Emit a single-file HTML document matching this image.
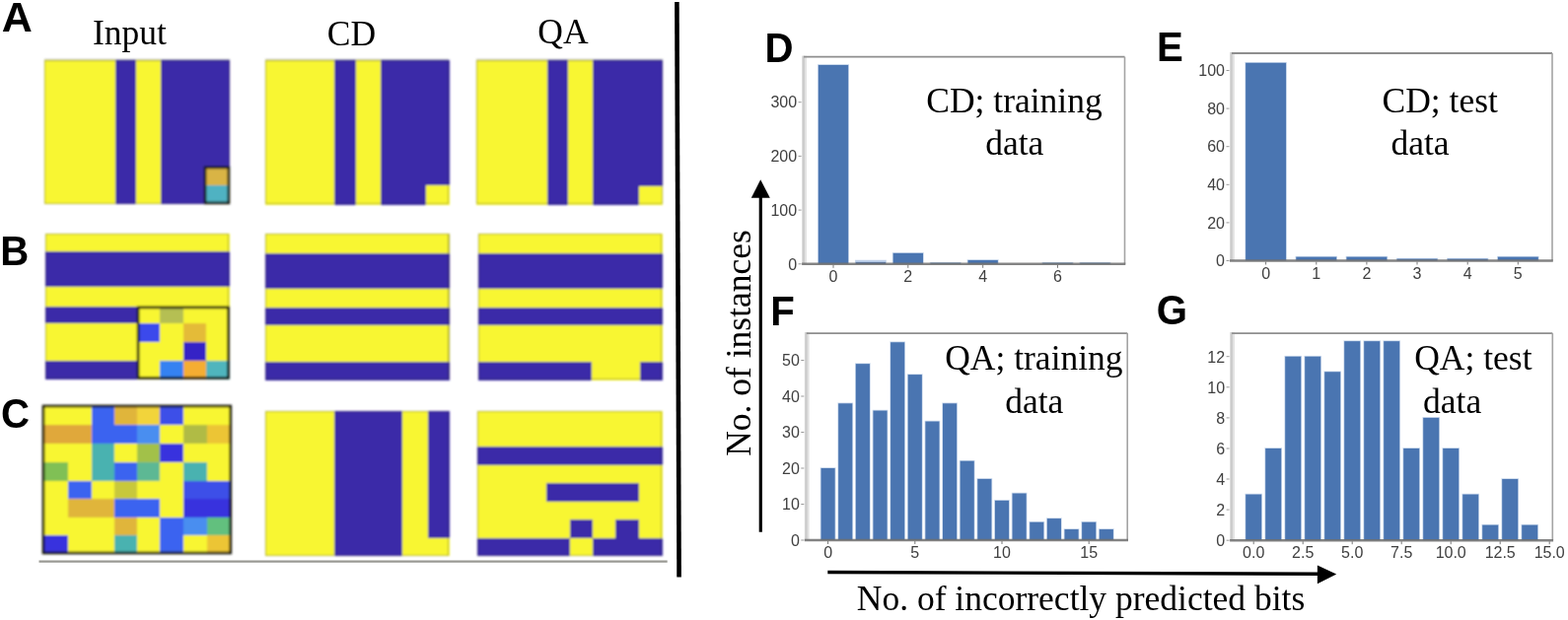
<!DOCTYPE html>
<html><head><meta charset="utf-8"><title>Figure</title>
<style>html,body{margin:0;padding:0;background:#fff;} svg{display:block;}</style>
</head><body>
<svg width="1590" height="629" viewBox="0 0 1590 629">
<rect width="1590" height="629" fill="#fff"/>
<defs><filter id="bl" x="-5%" y="-5%" width="110%" height="110%"><feGaussianBlur stdDeviation="0.8"/></filter></defs>
<g font-family="'Liberation Serif','Times New Roman',serif" font-size="35.5" fill="#000">
<text x="131.4" y="45.3" text-anchor="middle">Input</text>
<text x="356.4" y="46" text-anchor="middle">CD</text>
<text x="571" y="43.8" text-anchor="middle">QA</text>
</g>
<g font-family="'Liberation Sans',Arial,sans-serif" font-weight="bold" font-size="43" fill="#000">
<text transform="translate(17.2,32.4) scale(1.0,1.0)" x="0" y="0" text-anchor="middle">A</text>
<text transform="translate(14.65,269.2) scale(0.935,1.0)" x="0" y="0" text-anchor="middle">B</text>
<text transform="translate(15.4,433.8) scale(0.935,1.0)" x="0" y="0" text-anchor="middle">C</text>
<text transform="translate(789.9,62.6) scale(0.935,1.0)" x="0" y="0" text-anchor="middle">D</text>
<text transform="translate(1186.5,62.3) scale(0.935,1.0)" x="0" y="0" text-anchor="middle">E</text>
<text transform="translate(793.6,330.2) scale(0.935,1.0)" x="0" y="0" text-anchor="middle">F</text>
<text transform="translate(1188.4,329.4) scale(0.935,1.0)" x="0" y="0" text-anchor="middle">G</text>
</g>
<g filter="url(#bl)">
<g shape-rendering="crispEdges">
<rect x="45.00" y="60.50" width="72.30" height="18.38" fill="#f8f631"/>
<rect x="117.00" y="60.50" width="21.50" height="18.38" fill="#3a2aa8"/>
<rect x="138.20" y="60.50" width="25.10" height="18.38" fill="#f8f631"/>
<rect x="163.00" y="60.50" width="70.10" height="18.38" fill="#3a2aa8"/>
<rect x="45.00" y="78.58" width="72.30" height="18.38" fill="#f8f631"/>
<rect x="117.00" y="78.58" width="21.50" height="18.38" fill="#3a2aa8"/>
<rect x="138.20" y="78.58" width="25.10" height="18.38" fill="#f8f631"/>
<rect x="163.00" y="78.58" width="70.10" height="18.38" fill="#3a2aa8"/>
<rect x="45.00" y="96.67" width="72.30" height="18.38" fill="#f8f631"/>
<rect x="117.00" y="96.67" width="21.50" height="18.38" fill="#3a2aa8"/>
<rect x="138.20" y="96.67" width="25.10" height="18.38" fill="#f8f631"/>
<rect x="163.00" y="96.67" width="70.10" height="18.38" fill="#3a2aa8"/>
<rect x="45.00" y="114.75" width="72.30" height="18.38" fill="#f8f631"/>
<rect x="117.00" y="114.75" width="21.50" height="18.38" fill="#3a2aa8"/>
<rect x="138.20" y="114.75" width="25.10" height="18.38" fill="#f8f631"/>
<rect x="163.00" y="114.75" width="70.10" height="18.38" fill="#3a2aa8"/>
<rect x="45.00" y="132.83" width="72.30" height="18.38" fill="#f8f631"/>
<rect x="117.00" y="132.83" width="21.50" height="18.38" fill="#3a2aa8"/>
<rect x="138.20" y="132.83" width="25.10" height="18.38" fill="#f8f631"/>
<rect x="163.00" y="132.83" width="70.10" height="18.38" fill="#3a2aa8"/>
<rect x="45.00" y="150.92" width="72.30" height="18.38" fill="#f8f631"/>
<rect x="117.00" y="150.92" width="21.50" height="18.38" fill="#3a2aa8"/>
<rect x="138.20" y="150.92" width="25.10" height="18.38" fill="#f8f631"/>
<rect x="163.00" y="150.92" width="70.10" height="18.38" fill="#3a2aa8"/>
<rect x="45.00" y="169.00" width="72.30" height="19.20" fill="#f8f631"/>
<rect x="117.00" y="169.00" width="21.50" height="19.20" fill="#3a2aa8"/>
<rect x="138.20" y="169.00" width="25.10" height="19.20" fill="#f8f631"/>
<rect x="163.00" y="169.00" width="44.40" height="19.20" fill="#3a2aa8"/>
<rect x="207.10" y="169.00" width="26.00" height="19.20" fill="#d9b445"/>
<rect x="45.00" y="187.90" width="72.30" height="19.20" fill="#f8f631"/>
<rect x="117.00" y="187.90" width="21.50" height="19.20" fill="#3a2aa8"/>
<rect x="138.20" y="187.90" width="25.10" height="19.20" fill="#f8f631"/>
<rect x="163.00" y="187.90" width="44.40" height="19.20" fill="#3a2aa8"/>
<rect x="207.10" y="187.90" width="26.00" height="19.20" fill="#4fb2c2"/>
<rect x="45.60" y="61.10" width="186.60" height="145.10" fill="none" stroke="#303030" stroke-opacity="0.35" stroke-width="1.2"/>
</g>
<rect x="208.00" y="169.90" width="23.90" height="36.00" fill="none" stroke="#15150c" stroke-width="2.6"/>
<g shape-rendering="crispEdges">
<rect x="269.20" y="60.50" width="69.80" height="18.46" fill="#f8f631"/>
<rect x="338.70" y="60.50" width="22.60" height="18.46" fill="#3a2aa8"/>
<rect x="361.00" y="60.50" width="25.20" height="18.46" fill="#f8f631"/>
<rect x="385.90" y="60.50" width="69.70" height="18.46" fill="#3a2aa8"/>
<rect x="269.20" y="78.66" width="69.80" height="18.46" fill="#f8f631"/>
<rect x="338.70" y="78.66" width="22.60" height="18.46" fill="#3a2aa8"/>
<rect x="361.00" y="78.66" width="25.20" height="18.46" fill="#f8f631"/>
<rect x="385.90" y="78.66" width="69.70" height="18.46" fill="#3a2aa8"/>
<rect x="269.20" y="96.81" width="69.80" height="18.46" fill="#f8f631"/>
<rect x="338.70" y="96.81" width="22.60" height="18.46" fill="#3a2aa8"/>
<rect x="361.00" y="96.81" width="25.20" height="18.46" fill="#f8f631"/>
<rect x="385.90" y="96.81" width="69.70" height="18.46" fill="#3a2aa8"/>
<rect x="269.20" y="114.97" width="69.80" height="18.46" fill="#f8f631"/>
<rect x="338.70" y="114.97" width="22.60" height="18.46" fill="#3a2aa8"/>
<rect x="361.00" y="114.97" width="25.20" height="18.46" fill="#f8f631"/>
<rect x="385.90" y="114.97" width="69.70" height="18.46" fill="#3a2aa8"/>
<rect x="269.20" y="133.13" width="69.80" height="18.46" fill="#f8f631"/>
<rect x="338.70" y="133.13" width="22.60" height="18.46" fill="#3a2aa8"/>
<rect x="361.00" y="133.13" width="25.20" height="18.46" fill="#f8f631"/>
<rect x="385.90" y="133.13" width="69.70" height="18.46" fill="#3a2aa8"/>
<rect x="269.20" y="151.29" width="69.80" height="18.46" fill="#f8f631"/>
<rect x="338.70" y="151.29" width="22.60" height="18.46" fill="#3a2aa8"/>
<rect x="361.00" y="151.29" width="25.20" height="18.46" fill="#f8f631"/>
<rect x="385.90" y="151.29" width="69.70" height="18.46" fill="#3a2aa8"/>
<rect x="269.20" y="169.44" width="69.80" height="18.46" fill="#f8f631"/>
<rect x="338.70" y="169.44" width="22.60" height="18.46" fill="#3a2aa8"/>
<rect x="361.00" y="169.44" width="25.20" height="18.46" fill="#f8f631"/>
<rect x="385.90" y="169.44" width="69.70" height="18.46" fill="#3a2aa8"/>
<rect x="269.20" y="187.60" width="69.80" height="19.90" fill="#f8f631"/>
<rect x="338.70" y="187.60" width="22.60" height="19.90" fill="#3a2aa8"/>
<rect x="361.00" y="187.60" width="25.20" height="19.90" fill="#f8f631"/>
<rect x="385.90" y="187.60" width="46.10" height="19.90" fill="#3a2aa8"/>
<rect x="431.70" y="187.60" width="23.90" height="19.90" fill="#f8f631"/>
<rect x="269.80" y="61.10" width="184.90" height="145.50" fill="none" stroke="#303030" stroke-opacity="0.35" stroke-width="1.2"/>
</g>
<g shape-rendering="crispEdges">
<rect x="483.10" y="60.50" width="72.40" height="18.66" fill="#f8f631"/>
<rect x="555.20" y="60.50" width="21.30" height="18.66" fill="#3a2aa8"/>
<rect x="576.20" y="60.50" width="25.20" height="18.66" fill="#f8f631"/>
<rect x="601.10" y="60.50" width="71.10" height="18.66" fill="#3a2aa8"/>
<rect x="483.10" y="78.86" width="72.40" height="18.66" fill="#f8f631"/>
<rect x="555.20" y="78.86" width="21.30" height="18.66" fill="#3a2aa8"/>
<rect x="576.20" y="78.86" width="25.20" height="18.66" fill="#f8f631"/>
<rect x="601.10" y="78.86" width="71.10" height="18.66" fill="#3a2aa8"/>
<rect x="483.10" y="97.21" width="72.40" height="18.66" fill="#f8f631"/>
<rect x="555.20" y="97.21" width="21.30" height="18.66" fill="#3a2aa8"/>
<rect x="576.20" y="97.21" width="25.20" height="18.66" fill="#f8f631"/>
<rect x="601.10" y="97.21" width="71.10" height="18.66" fill="#3a2aa8"/>
<rect x="483.10" y="115.57" width="72.40" height="18.66" fill="#f8f631"/>
<rect x="555.20" y="115.57" width="21.30" height="18.66" fill="#3a2aa8"/>
<rect x="576.20" y="115.57" width="25.20" height="18.66" fill="#f8f631"/>
<rect x="601.10" y="115.57" width="71.10" height="18.66" fill="#3a2aa8"/>
<rect x="483.10" y="133.93" width="72.40" height="18.66" fill="#f8f631"/>
<rect x="555.20" y="133.93" width="21.30" height="18.66" fill="#3a2aa8"/>
<rect x="576.20" y="133.93" width="25.20" height="18.66" fill="#f8f631"/>
<rect x="601.10" y="133.93" width="71.10" height="18.66" fill="#3a2aa8"/>
<rect x="483.10" y="152.29" width="72.40" height="18.66" fill="#f8f631"/>
<rect x="555.20" y="152.29" width="21.30" height="18.66" fill="#3a2aa8"/>
<rect x="576.20" y="152.29" width="25.20" height="18.66" fill="#f8f631"/>
<rect x="601.10" y="152.29" width="71.10" height="18.66" fill="#3a2aa8"/>
<rect x="483.10" y="170.64" width="72.40" height="18.66" fill="#f8f631"/>
<rect x="555.20" y="170.64" width="21.30" height="18.66" fill="#3a2aa8"/>
<rect x="576.20" y="170.64" width="25.20" height="18.66" fill="#f8f631"/>
<rect x="601.10" y="170.64" width="71.10" height="18.66" fill="#3a2aa8"/>
<rect x="483.10" y="189.00" width="72.40" height="18.50" fill="#f8f631"/>
<rect x="555.20" y="189.00" width="21.30" height="18.50" fill="#3a2aa8"/>
<rect x="576.20" y="189.00" width="25.20" height="18.50" fill="#f8f631"/>
<rect x="601.10" y="189.00" width="47.50" height="18.50" fill="#3a2aa8"/>
<rect x="648.30" y="189.00" width="23.90" height="18.50" fill="#f8f631"/>
<rect x="483.70" y="61.10" width="187.60" height="145.50" fill="none" stroke="#303030" stroke-opacity="0.35" stroke-width="1.2"/>
</g>
<g shape-rendering="crispEdges">
<rect x="45.90" y="237.20" width="186.80" height="17.80" fill="#f8f631"/>
<rect x="45.90" y="254.70" width="186.80" height="18.60" fill="#3a2aa8"/>
<rect x="45.90" y="273.00" width="186.80" height="18.50" fill="#3a2aa8"/>
<rect x="45.90" y="291.20" width="186.80" height="20.10" fill="#f8f631"/>
<rect x="45.90" y="311.00" width="93.55" height="17.50" fill="#3a2aa8"/>
<rect x="139.15" y="311.00" width="23.61" height="17.50" fill="#f8f631"/>
<rect x="162.46" y="311.00" width="23.61" height="17.50" fill="#b5bf52"/>
<rect x="185.78" y="311.00" width="46.92" height="17.50" fill="#f8f631"/>
<rect x="45.90" y="328.20" width="93.55" height="18.90" fill="#f8f631"/>
<rect x="139.15" y="328.20" width="23.61" height="18.90" fill="#3a48ec"/>
<rect x="162.46" y="328.20" width="23.61" height="18.90" fill="#f8f631"/>
<rect x="185.78" y="328.20" width="23.61" height="18.90" fill="#e4bb38"/>
<rect x="209.09" y="328.20" width="23.61" height="18.90" fill="#f8f631"/>
<rect x="45.90" y="346.80" width="140.18" height="19.00" fill="#f8f631"/>
<rect x="185.78" y="346.80" width="23.61" height="19.00" fill="#3424c6"/>
<rect x="209.09" y="346.80" width="23.61" height="19.00" fill="#f8f631"/>
<rect x="45.90" y="365.50" width="93.55" height="19.10" fill="#3a2aa8"/>
<rect x="139.15" y="365.50" width="23.61" height="19.10" fill="#f8f631"/>
<rect x="162.46" y="365.50" width="23.61" height="19.10" fill="#3582f2"/>
<rect x="185.78" y="365.50" width="23.61" height="19.10" fill="#f5ad33"/>
<rect x="209.09" y="365.50" width="23.61" height="19.10" fill="#4fb5bd"/>
<rect x="46.50" y="237.80" width="185.30" height="145.90" fill="none" stroke="#303030" stroke-opacity="0.35" stroke-width="1.2"/>
</g>
<rect x="140.05" y="311.90" width="91.45" height="71.50" fill="none" stroke="#15150c" stroke-width="2.6"/>
<g shape-rendering="crispEdges">
<rect x="268.60" y="237.20" width="187.30" height="19.60" fill="#f8f631"/>
<rect x="268.60" y="256.50" width="187.30" height="18.40" fill="#3a2aa8"/>
<rect x="268.60" y="274.60" width="187.30" height="18.30" fill="#3a2aa8"/>
<rect x="268.60" y="292.60" width="187.30" height="19.70" fill="#f8f631"/>
<rect x="268.60" y="312.00" width="187.30" height="18.30" fill="#3a2aa8"/>
<rect x="268.60" y="330.00" width="187.30" height="19.10" fill="#f8f631"/>
<rect x="268.60" y="348.80" width="187.30" height="18.90" fill="#f8f631"/>
<rect x="268.60" y="367.40" width="187.30" height="18.10" fill="#3a2aa8"/>
<rect x="269.20" y="237.80" width="185.80" height="146.80" fill="none" stroke="#303030" stroke-opacity="0.35" stroke-width="1.2"/>
</g>
<g shape-rendering="crispEdges">
<rect x="484.90" y="237.20" width="186.80" height="19.60" fill="#f8f631"/>
<rect x="484.90" y="256.50" width="186.80" height="18.40" fill="#3a2aa8"/>
<rect x="484.90" y="274.60" width="186.80" height="18.30" fill="#3a2aa8"/>
<rect x="484.90" y="292.60" width="186.80" height="19.70" fill="#f8f631"/>
<rect x="484.90" y="312.00" width="186.80" height="18.30" fill="#3a2aa8"/>
<rect x="484.90" y="330.00" width="186.80" height="19.10" fill="#f8f631"/>
<rect x="484.90" y="348.80" width="186.80" height="18.90" fill="#f8f631"/>
<rect x="484.90" y="367.40" width="115.20" height="18.10" fill="#3a2aa8"/>
<rect x="599.80" y="367.40" width="49.00" height="18.10" fill="#f8f631"/>
<rect x="648.50" y="367.40" width="23.20" height="18.10" fill="#3a2aa8"/>
<rect x="485.50" y="237.80" width="185.30" height="146.80" fill="none" stroke="#303030" stroke-opacity="0.35" stroke-width="1.2"/>
</g>
<g shape-rendering="crispEdges">
<rect x="43.80" y="411.80" width="49.00" height="19.80" fill="#f8f631"/>
<rect x="92.50" y="411.80" width="23.80" height="19.80" fill="#3a64f0"/>
<rect x="116.00" y="411.80" width="22.90" height="19.80" fill="#e0b53a"/>
<rect x="138.60" y="411.80" width="23.50" height="19.80" fill="#f2d43a"/>
<rect x="161.80" y="411.80" width="24.50" height="19.80" fill="#3c50e8"/>
<rect x="186.00" y="411.80" width="48.30" height="19.80" fill="#f8f631"/>
<rect x="43.80" y="431.30" width="49.00" height="19.20" fill="#e0a83a"/>
<rect x="92.50" y="431.30" width="46.40" height="19.20" fill="#3a64f0"/>
<rect x="138.60" y="431.30" width="23.50" height="19.20" fill="#4a8ef0"/>
<rect x="161.80" y="431.30" width="24.50" height="19.20" fill="#f8f631"/>
<rect x="186.00" y="431.30" width="23.80" height="19.20" fill="#b0bb45"/>
<rect x="209.50" y="431.30" width="24.80" height="19.20" fill="#ecc534"/>
<rect x="43.80" y="450.20" width="49.00" height="19.10" fill="#f8f631"/>
<rect x="92.50" y="450.20" width="23.80" height="19.10" fill="#48b2b0"/>
<rect x="116.00" y="450.20" width="22.90" height="19.10" fill="#f8f631"/>
<rect x="138.60" y="450.20" width="23.50" height="19.10" fill="#a2c14a"/>
<rect x="161.80" y="450.20" width="24.50" height="19.10" fill="#3832de"/>
<rect x="186.00" y="450.20" width="48.30" height="19.10" fill="#f8f631"/>
<rect x="43.80" y="469.00" width="25.50" height="19.10" fill="#80c055"/>
<rect x="69.00" y="469.00" width="23.80" height="19.10" fill="#f8f631"/>
<rect x="92.50" y="469.00" width="23.80" height="19.10" fill="#48b2b0"/>
<rect x="116.00" y="469.00" width="22.90" height="19.10" fill="#3a64f0"/>
<rect x="138.60" y="469.00" width="23.50" height="19.10" fill="#5db894"/>
<rect x="161.80" y="469.00" width="24.50" height="19.10" fill="#f8f631"/>
<rect x="186.00" y="469.00" width="23.80" height="19.10" fill="#48b2b0"/>
<rect x="209.50" y="469.00" width="24.80" height="19.10" fill="#f8f631"/>
<rect x="43.80" y="487.80" width="25.50" height="18.80" fill="#f8f631"/>
<rect x="69.00" y="487.80" width="23.80" height="18.80" fill="#3a64f0"/>
<rect x="92.50" y="487.80" width="23.80" height="18.80" fill="#f8f631"/>
<rect x="116.00" y="487.80" width="22.90" height="18.80" fill="#c8c83a"/>
<rect x="138.60" y="487.80" width="47.70" height="18.80" fill="#f8f631"/>
<rect x="186.00" y="487.80" width="48.30" height="18.80" fill="#3c50e8"/>
<rect x="43.80" y="506.30" width="25.50" height="18.70" fill="#f8f631"/>
<rect x="69.00" y="506.30" width="47.30" height="18.70" fill="#e0b53a"/>
<rect x="116.00" y="506.30" width="46.10" height="18.70" fill="#3a64f0"/>
<rect x="161.80" y="506.30" width="24.50" height="18.70" fill="#f8f631"/>
<rect x="186.00" y="506.30" width="48.30" height="18.70" fill="#3832de"/>
<rect x="43.80" y="524.70" width="72.50" height="18.80" fill="#f8f631"/>
<rect x="116.00" y="524.70" width="22.90" height="18.80" fill="#e0b53a"/>
<rect x="138.60" y="524.70" width="23.50" height="18.80" fill="#f8f631"/>
<rect x="161.80" y="524.70" width="24.50" height="18.80" fill="#3a64f0"/>
<rect x="186.00" y="524.70" width="23.80" height="18.80" fill="#4a8ef0"/>
<rect x="209.50" y="524.70" width="24.80" height="18.80" fill="#62c07e"/>
<rect x="43.80" y="543.20" width="25.50" height="18.30" fill="#3832de"/>
<rect x="69.00" y="543.20" width="47.30" height="18.30" fill="#f8f631"/>
<rect x="116.00" y="543.20" width="22.90" height="18.30" fill="#48b2b0"/>
<rect x="138.60" y="543.20" width="23.50" height="18.30" fill="#f8f631"/>
<rect x="161.80" y="543.20" width="24.50" height="18.30" fill="#3a64f0"/>
<rect x="186.00" y="543.20" width="23.80" height="18.30" fill="#f8f631"/>
<rect x="209.50" y="543.20" width="24.80" height="18.30" fill="#ecc534"/>
<rect x="44.40" y="412.40" width="189.00" height="148.20" fill="none" stroke="#303030" stroke-opacity="0.35" stroke-width="1.2"/>
</g>
<rect x="44.00" y="412.00" width="189.80" height="149.00" fill="none" stroke="#15150c" stroke-width="2.6"/>
<g shape-rendering="crispEdges">
<rect x="268.50" y="416.50" width="71.00" height="18.74" fill="#f8f631"/>
<rect x="339.20" y="416.50" width="69.30" height="18.74" fill="#3a2aa8"/>
<rect x="408.20" y="416.50" width="25.70" height="18.74" fill="#f8f631"/>
<rect x="433.60" y="416.50" width="21.90" height="18.74" fill="#3a2aa8"/>
<rect x="268.50" y="434.94" width="71.00" height="18.74" fill="#f8f631"/>
<rect x="339.20" y="434.94" width="69.30" height="18.74" fill="#3a2aa8"/>
<rect x="408.20" y="434.94" width="25.70" height="18.74" fill="#f8f631"/>
<rect x="433.60" y="434.94" width="21.90" height="18.74" fill="#3a2aa8"/>
<rect x="268.50" y="453.38" width="71.00" height="18.74" fill="#f8f631"/>
<rect x="339.20" y="453.38" width="69.30" height="18.74" fill="#3a2aa8"/>
<rect x="408.20" y="453.38" width="25.70" height="18.74" fill="#f8f631"/>
<rect x="433.60" y="453.38" width="21.90" height="18.74" fill="#3a2aa8"/>
<rect x="268.50" y="471.81" width="71.00" height="18.74" fill="#f8f631"/>
<rect x="339.20" y="471.81" width="69.30" height="18.74" fill="#3a2aa8"/>
<rect x="408.20" y="471.81" width="25.70" height="18.74" fill="#f8f631"/>
<rect x="433.60" y="471.81" width="21.90" height="18.74" fill="#3a2aa8"/>
<rect x="268.50" y="490.25" width="71.00" height="18.74" fill="#f8f631"/>
<rect x="339.20" y="490.25" width="69.30" height="18.74" fill="#3a2aa8"/>
<rect x="408.20" y="490.25" width="25.70" height="18.74" fill="#f8f631"/>
<rect x="433.60" y="490.25" width="21.90" height="18.74" fill="#3a2aa8"/>
<rect x="268.50" y="508.69" width="71.00" height="18.74" fill="#f8f631"/>
<rect x="339.20" y="508.69" width="69.30" height="18.74" fill="#3a2aa8"/>
<rect x="408.20" y="508.69" width="25.70" height="18.74" fill="#f8f631"/>
<rect x="433.60" y="508.69" width="21.90" height="18.74" fill="#3a2aa8"/>
<rect x="268.50" y="527.12" width="71.00" height="18.74" fill="#f8f631"/>
<rect x="339.20" y="527.12" width="69.30" height="18.74" fill="#3a2aa8"/>
<rect x="408.20" y="527.12" width="25.70" height="18.74" fill="#f8f631"/>
<rect x="433.60" y="527.12" width="21.90" height="18.74" fill="#3a2aa8"/>
<rect x="268.50" y="545.56" width="71.00" height="18.74" fill="#f8f631"/>
<rect x="339.20" y="545.56" width="69.30" height="18.74" fill="#3a2aa8"/>
<rect x="408.20" y="545.56" width="47.30" height="18.74" fill="#f8f631"/>
<rect x="269.10" y="417.10" width="185.50" height="146.30" fill="none" stroke="#303030" stroke-opacity="0.35" stroke-width="1.2"/>
</g>
<g shape-rendering="crispEdges">
<rect x="483.80" y="416.50" width="187.70" height="18.74" fill="#f8f631"/>
<rect x="483.80" y="434.94" width="187.70" height="18.74" fill="#f8f631"/>
<rect x="483.80" y="453.38" width="187.70" height="18.74" fill="#3a2aa8"/>
<rect x="483.80" y="471.81" width="187.70" height="18.74" fill="#f8f631"/>
<rect x="483.80" y="490.25" width="70.58" height="18.74" fill="#f8f631"/>
<rect x="554.08" y="490.25" width="94.00" height="18.74" fill="#3a2aa8"/>
<rect x="647.78" y="490.25" width="23.72" height="18.74" fill="#f8f631"/>
<rect x="483.80" y="508.69" width="187.70" height="18.74" fill="#f8f631"/>
<rect x="483.80" y="527.12" width="94.00" height="18.74" fill="#f8f631"/>
<rect x="577.50" y="527.12" width="23.73" height="18.74" fill="#3a2aa8"/>
<rect x="600.93" y="527.12" width="23.72" height="18.74" fill="#f8f631"/>
<rect x="624.35" y="527.12" width="23.73" height="18.74" fill="#3a2aa8"/>
<rect x="647.78" y="527.12" width="23.72" height="18.74" fill="#f8f631"/>
<rect x="483.80" y="545.56" width="94.00" height="18.74" fill="#3a2aa8"/>
<rect x="577.50" y="545.56" width="23.73" height="18.74" fill="#f8f631"/>
<rect x="600.93" y="545.56" width="70.57" height="18.74" fill="#3a2aa8"/>
<rect x="484.40" y="417.10" width="186.20" height="146.30" fill="none" stroke="#303030" stroke-opacity="0.35" stroke-width="1.2"/>
</g>
</g>
<line x1="39.5" y1="569.7" x2="676.7" y2="569.7" stroke="#9a9a94" stroke-width="2.2"/>
<line x1="686.4" y1="2" x2="688.6" y2="585.6" stroke="#000" stroke-width="4.6"/>
<rect x="813.1" y="56.7" width="4.8" height="211.1" fill="#e2e2e2"/>
<rect x="813.7" y="56.7" width="2.2" height="211.1" fill="#cbcbcb"/>
<rect x="829.03" y="65.16" width="31.94" height="202.64" fill="#c9d8ec"/>
<rect x="829.83" y="65.96" width="30.34" height="201.84" fill="#4a75b1"/>
<rect x="866.95" y="263.72" width="31.94" height="4.08" fill="#c9d8ec"/>
<rect x="867.75" y="264.52" width="30.34" height="3.28" fill="#b3c8e6"/>
<rect x="867.75" y="266.20" width="30.34" height="1.6" fill="#3a62a0"/>
<rect x="904.87" y="256.06" width="31.94" height="11.74" fill="#c9d8ec"/>
<rect x="905.67" y="256.86" width="30.34" height="10.94" fill="#4a75b1"/>
<rect x="942.79" y="265.91" width="31.94" height="1.89" fill="#c9d8ec"/>
<rect x="943.59" y="266.71" width="30.34" height="1.09" fill="#4a75b1"/>
<rect x="980.71" y="263.17" width="31.94" height="4.63" fill="#c9d8ec"/>
<rect x="981.51" y="263.97" width="30.34" height="3.83" fill="#4a75b1"/>
<rect x="1056.55" y="265.91" width="31.94" height="1.89" fill="#c9d8ec"/>
<rect x="1057.35" y="266.71" width="30.34" height="1.09" fill="#4a75b1"/>
<rect x="1094.47" y="265.91" width="31.94" height="1.89" fill="#c9d8ec"/>
<rect x="1095.27" y="266.71" width="30.34" height="1.09" fill="#4a75b1"/>
<line x1="815.1" y1="57.7" x2="1140.5" y2="57.7" stroke="#8e8e8e" stroke-width="1.8"/>
<line x1="1140.5" y1="57.7" x2="1140.5" y2="267.8" stroke="#a4a4a4" stroke-width="1.6"/>
<line x1="813.1" y1="267.8" x2="1141.3" y2="267.8" stroke="#6e6e6e" stroke-width="2.4" opacity="0.85"/>
<line x1="845.0" y1="268.8" x2="845.0" y2="271.8" stroke="#777" stroke-width="1"/>
<text x="845.0" y="285.8" text-anchor="middle" font-family="'Liberation Sans',Arial,sans-serif" font-size="16" fill="#404040">0</text>
<line x1="920.8" y1="268.8" x2="920.8" y2="271.8" stroke="#777" stroke-width="1"/>
<text x="920.8" y="285.8" text-anchor="middle" font-family="'Liberation Sans',Arial,sans-serif" font-size="16" fill="#404040">2</text>
<line x1="996.7" y1="268.8" x2="996.7" y2="271.8" stroke="#777" stroke-width="1"/>
<text x="996.7" y="285.8" text-anchor="middle" font-family="'Liberation Sans',Arial,sans-serif" font-size="16" fill="#404040">4</text>
<line x1="1072.5" y1="268.8" x2="1072.5" y2="271.8" stroke="#777" stroke-width="1"/>
<text x="1072.5" y="285.8" text-anchor="middle" font-family="'Liberation Sans',Arial,sans-serif" font-size="16" fill="#404040">6</text>
<line x1="809.6" y1="267.8" x2="812.6" y2="267.8" stroke="#999" stroke-width="1"/>
<text x="808.1" y="273.6" text-anchor="end" font-family="'Liberation Sans',Arial,sans-serif" font-size="16" fill="#404040">0</text>
<line x1="809.6" y1="213.1" x2="812.6" y2="213.1" stroke="#999" stroke-width="1"/>
<text x="808.1" y="218.9" text-anchor="end" font-family="'Liberation Sans',Arial,sans-serif" font-size="16" fill="#404040">100</text>
<line x1="809.6" y1="158.4" x2="812.6" y2="158.4" stroke="#999" stroke-width="1"/>
<text x="808.1" y="164.2" text-anchor="end" font-family="'Liberation Sans',Arial,sans-serif" font-size="16" fill="#404040">200</text>
<line x1="809.6" y1="103.7" x2="812.6" y2="103.7" stroke="#999" stroke-width="1"/>
<text x="808.1" y="109.4" text-anchor="end" font-family="'Liberation Sans',Arial,sans-serif" font-size="16" fill="#404040">300</text>
<rect x="1247.0" y="53.0" width="4.8" height="211.5" fill="#e2e2e2"/>
<rect x="1247.6" y="53.0" width="2.2" height="211.5" fill="#cbcbcb"/>
<rect x="1262.34" y="62.98" width="42.52" height="201.52" fill="#c9d8ec"/>
<rect x="1263.14" y="63.78" width="40.92" height="200.72" fill="#4a75b1"/>
<rect x="1313.49" y="259.84" width="42.52" height="4.66" fill="#c9d8ec"/>
<rect x="1314.29" y="260.64" width="40.92" height="3.86" fill="#4a75b1"/>
<rect x="1364.64" y="259.84" width="42.52" height="4.66" fill="#c9d8ec"/>
<rect x="1365.44" y="260.64" width="40.92" height="3.86" fill="#4a75b1"/>
<rect x="1415.79" y="261.77" width="42.52" height="2.73" fill="#c9d8ec"/>
<rect x="1416.59" y="262.57" width="40.92" height="1.93" fill="#4a75b1"/>
<rect x="1466.94" y="261.77" width="42.52" height="2.73" fill="#c9d8ec"/>
<rect x="1467.74" y="262.57" width="40.92" height="1.93" fill="#4a75b1"/>
<rect x="1518.09" y="259.84" width="42.52" height="4.66" fill="#c9d8ec"/>
<rect x="1518.89" y="260.64" width="40.92" height="3.86" fill="#4a75b1"/>
<line x1="1249.0" y1="54.0" x2="1574.0" y2="54.0" stroke="#8e8e8e" stroke-width="1.8"/>
<line x1="1574.0" y1="54.0" x2="1574.0" y2="264.5" stroke="#a4a4a4" stroke-width="1.6"/>
<line x1="1247.0" y1="264.5" x2="1574.8" y2="264.5" stroke="#6e6e6e" stroke-width="2.4" opacity="0.85"/>
<line x1="1283.6" y1="265.5" x2="1283.6" y2="268.5" stroke="#777" stroke-width="1"/>
<text x="1283.6" y="282.5" text-anchor="middle" font-family="'Liberation Sans',Arial,sans-serif" font-size="16" fill="#404040">0</text>
<line x1="1334.8" y1="265.5" x2="1334.8" y2="268.5" stroke="#777" stroke-width="1"/>
<text x="1334.8" y="282.5" text-anchor="middle" font-family="'Liberation Sans',Arial,sans-serif" font-size="16" fill="#404040">1</text>
<line x1="1385.9" y1="265.5" x2="1385.9" y2="268.5" stroke="#777" stroke-width="1"/>
<text x="1385.9" y="282.5" text-anchor="middle" font-family="'Liberation Sans',Arial,sans-serif" font-size="16" fill="#404040">2</text>
<line x1="1437.0" y1="265.5" x2="1437.0" y2="268.5" stroke="#777" stroke-width="1"/>
<text x="1437.0" y="282.5" text-anchor="middle" font-family="'Liberation Sans',Arial,sans-serif" font-size="16" fill="#404040">3</text>
<line x1="1488.2" y1="265.5" x2="1488.2" y2="268.5" stroke="#777" stroke-width="1"/>
<text x="1488.2" y="282.5" text-anchor="middle" font-family="'Liberation Sans',Arial,sans-serif" font-size="16" fill="#404040">4</text>
<line x1="1539.3" y1="265.5" x2="1539.3" y2="268.5" stroke="#777" stroke-width="1"/>
<text x="1539.3" y="282.5" text-anchor="middle" font-family="'Liberation Sans',Arial,sans-serif" font-size="16" fill="#404040">5</text>
<line x1="1243.5" y1="264.5" x2="1246.5" y2="264.5" stroke="#999" stroke-width="1"/>
<text x="1242.0" y="270.2" text-anchor="end" font-family="'Liberation Sans',Arial,sans-serif" font-size="16" fill="#404040">0</text>
<line x1="1243.5" y1="225.9" x2="1246.5" y2="225.9" stroke="#999" stroke-width="1"/>
<text x="1242.0" y="231.7" text-anchor="end" font-family="'Liberation Sans',Arial,sans-serif" font-size="16" fill="#404040">20</text>
<line x1="1243.5" y1="187.3" x2="1246.5" y2="187.3" stroke="#999" stroke-width="1"/>
<text x="1242.0" y="193.1" text-anchor="end" font-family="'Liberation Sans',Arial,sans-serif" font-size="16" fill="#404040">40</text>
<line x1="1243.5" y1="148.7" x2="1246.5" y2="148.7" stroke="#999" stroke-width="1"/>
<text x="1242.0" y="154.4" text-anchor="end" font-family="'Liberation Sans',Arial,sans-serif" font-size="16" fill="#404040">60</text>
<line x1="1243.5" y1="110.1" x2="1246.5" y2="110.1" stroke="#999" stroke-width="1"/>
<text x="1242.0" y="115.8" text-anchor="end" font-family="'Liberation Sans',Arial,sans-serif" font-size="16" fill="#404040">80</text>
<line x1="1243.5" y1="71.5" x2="1246.5" y2="71.5" stroke="#999" stroke-width="1"/>
<text x="1242.0" y="77.2" text-anchor="end" font-family="'Liberation Sans',Arial,sans-serif" font-size="16" fill="#404040">100</text>
<rect x="815.8" y="337.1" width="4.8" height="210.9" fill="#e2e2e2"/>
<rect x="816.4" y="337.1" width="2.2" height="210.9" fill="#cbcbcb"/>
<rect x="831.74" y="474.20" width="15.71" height="73.80" fill="#c9d8ec"/>
<rect x="832.54" y="475.00" width="14.11" height="73.00" fill="#4a75b1"/>
<rect x="849.38" y="408.50" width="15.71" height="139.50" fill="#c9d8ec"/>
<rect x="850.18" y="409.30" width="14.11" height="138.70" fill="#4a75b1"/>
<rect x="867.02" y="368.35" width="15.71" height="179.65" fill="#c9d8ec"/>
<rect x="867.82" y="369.15" width="14.11" height="178.85" fill="#4a75b1"/>
<rect x="884.66" y="415.80" width="15.71" height="132.20" fill="#c9d8ec"/>
<rect x="885.46" y="416.60" width="14.11" height="131.40" fill="#4a75b1"/>
<rect x="902.30" y="346.45" width="15.71" height="201.55" fill="#c9d8ec"/>
<rect x="903.10" y="347.25" width="14.11" height="200.75" fill="#4a75b1"/>
<rect x="919.94" y="379.30" width="15.71" height="168.70" fill="#c9d8ec"/>
<rect x="920.74" y="380.10" width="14.11" height="167.90" fill="#4a75b1"/>
<rect x="937.58" y="426.75" width="15.71" height="121.25" fill="#c9d8ec"/>
<rect x="938.38" y="427.55" width="14.11" height="120.45" fill="#4a75b1"/>
<rect x="955.22" y="408.50" width="15.71" height="139.50" fill="#c9d8ec"/>
<rect x="956.02" y="409.30" width="14.11" height="138.70" fill="#4a75b1"/>
<rect x="972.86" y="466.90" width="15.71" height="81.10" fill="#c9d8ec"/>
<rect x="973.66" y="467.70" width="14.11" height="80.30" fill="#4a75b1"/>
<rect x="990.50" y="485.15" width="15.71" height="62.85" fill="#c9d8ec"/>
<rect x="991.30" y="485.95" width="14.11" height="62.05" fill="#4a75b1"/>
<rect x="1008.14" y="507.05" width="15.71" height="40.95" fill="#c9d8ec"/>
<rect x="1008.94" y="507.85" width="14.11" height="40.15" fill="#4a75b1"/>
<rect x="1025.78" y="499.75" width="15.71" height="48.25" fill="#c9d8ec"/>
<rect x="1026.58" y="500.55" width="14.11" height="47.45" fill="#4a75b1"/>
<rect x="1043.42" y="528.95" width="15.71" height="19.05" fill="#c9d8ec"/>
<rect x="1044.22" y="529.75" width="14.11" height="18.25" fill="#4a75b1"/>
<rect x="1061.06" y="525.30" width="15.71" height="22.70" fill="#c9d8ec"/>
<rect x="1061.86" y="526.10" width="14.11" height="21.90" fill="#4a75b1"/>
<rect x="1078.70" y="536.25" width="15.71" height="11.75" fill="#c9d8ec"/>
<rect x="1079.50" y="537.05" width="14.11" height="10.95" fill="#4a75b1"/>
<rect x="1096.34" y="528.95" width="15.71" height="19.05" fill="#c9d8ec"/>
<rect x="1097.14" y="529.75" width="14.11" height="18.25" fill="#4a75b1"/>
<rect x="1113.98" y="536.25" width="15.71" height="11.75" fill="#c9d8ec"/>
<rect x="1114.78" y="537.05" width="14.11" height="10.95" fill="#4a75b1"/>
<line x1="817.8" y1="338.1" x2="1143.2" y2="338.1" stroke="#8e8e8e" stroke-width="1.8"/>
<line x1="1143.2" y1="338.1" x2="1143.2" y2="548.0" stroke="#a4a4a4" stroke-width="1.6"/>
<line x1="815.8" y1="548.0" x2="1144.0" y2="548.0" stroke="#6e6e6e" stroke-width="2.4" opacity="0.85"/>
<line x1="839.6" y1="549.0" x2="839.6" y2="552.0" stroke="#777" stroke-width="1"/>
<text x="839.6" y="566.0" text-anchor="middle" font-family="'Liberation Sans',Arial,sans-serif" font-size="16" fill="#404040">0</text>
<line x1="927.8" y1="549.0" x2="927.8" y2="552.0" stroke="#777" stroke-width="1"/>
<text x="927.8" y="566.0" text-anchor="middle" font-family="'Liberation Sans',Arial,sans-serif" font-size="16" fill="#404040">5</text>
<line x1="1016.0" y1="549.0" x2="1016.0" y2="552.0" stroke="#777" stroke-width="1"/>
<text x="1016.0" y="566.0" text-anchor="middle" font-family="'Liberation Sans',Arial,sans-serif" font-size="16" fill="#404040">10</text>
<line x1="1104.2" y1="549.0" x2="1104.2" y2="552.0" stroke="#777" stroke-width="1"/>
<text x="1104.2" y="566.0" text-anchor="middle" font-family="'Liberation Sans',Arial,sans-serif" font-size="16" fill="#404040">15</text>
<line x1="812.3" y1="548.0" x2="815.3" y2="548.0" stroke="#999" stroke-width="1"/>
<text x="810.8" y="553.8" text-anchor="end" font-family="'Liberation Sans',Arial,sans-serif" font-size="16" fill="#404040">0</text>
<line x1="812.3" y1="511.5" x2="815.3" y2="511.5" stroke="#999" stroke-width="1"/>
<text x="810.8" y="517.2" text-anchor="end" font-family="'Liberation Sans',Arial,sans-serif" font-size="16" fill="#404040">10</text>
<line x1="812.3" y1="475.0" x2="815.3" y2="475.0" stroke="#999" stroke-width="1"/>
<text x="810.8" y="480.8" text-anchor="end" font-family="'Liberation Sans',Arial,sans-serif" font-size="16" fill="#404040">20</text>
<line x1="812.3" y1="438.5" x2="815.3" y2="438.5" stroke="#999" stroke-width="1"/>
<text x="810.8" y="444.2" text-anchor="end" font-family="'Liberation Sans',Arial,sans-serif" font-size="16" fill="#404040">30</text>
<line x1="812.3" y1="402.0" x2="815.3" y2="402.0" stroke="#999" stroke-width="1"/>
<text x="810.8" y="407.8" text-anchor="end" font-family="'Liberation Sans',Arial,sans-serif" font-size="16" fill="#404040">40</text>
<line x1="812.3" y1="365.5" x2="815.3" y2="365.5" stroke="#999" stroke-width="1"/>
<text x="810.8" y="371.2" text-anchor="end" font-family="'Liberation Sans',Arial,sans-serif" font-size="16" fill="#404040">50</text>
<rect x="1247.1" y="337.1" width="4.8" height="211.1" fill="#e2e2e2"/>
<rect x="1247.7" y="337.1" width="2.2" height="211.1" fill="#cbcbcb"/>
<rect x="1262.40" y="500.78" width="17.60" height="47.42" fill="#c9d8ec"/>
<rect x="1263.20" y="501.58" width="16.00" height="46.62" fill="#4a75b1"/>
<rect x="1282.40" y="454.16" width="17.60" height="94.04" fill="#c9d8ec"/>
<rect x="1283.20" y="454.96" width="16.00" height="93.24" fill="#4a75b1"/>
<rect x="1302.40" y="360.92" width="17.60" height="187.28" fill="#c9d8ec"/>
<rect x="1303.20" y="361.72" width="16.00" height="186.48" fill="#4a75b1"/>
<rect x="1322.40" y="360.92" width="17.60" height="187.28" fill="#c9d8ec"/>
<rect x="1323.20" y="361.72" width="16.00" height="186.48" fill="#4a75b1"/>
<rect x="1342.40" y="376.46" width="17.60" height="171.74" fill="#c9d8ec"/>
<rect x="1343.20" y="377.26" width="16.00" height="170.94" fill="#4a75b1"/>
<rect x="1362.40" y="345.38" width="17.60" height="202.82" fill="#c9d8ec"/>
<rect x="1363.20" y="346.18" width="16.00" height="202.02" fill="#4a75b1"/>
<rect x="1382.40" y="345.38" width="17.60" height="202.82" fill="#c9d8ec"/>
<rect x="1383.20" y="346.18" width="16.00" height="202.02" fill="#4a75b1"/>
<rect x="1402.40" y="345.38" width="17.60" height="202.82" fill="#c9d8ec"/>
<rect x="1403.20" y="346.18" width="16.00" height="202.02" fill="#4a75b1"/>
<rect x="1422.40" y="454.16" width="17.60" height="94.04" fill="#c9d8ec"/>
<rect x="1423.20" y="454.96" width="16.00" height="93.24" fill="#4a75b1"/>
<rect x="1442.40" y="423.08" width="17.60" height="125.12" fill="#c9d8ec"/>
<rect x="1443.20" y="423.88" width="16.00" height="124.32" fill="#4a75b1"/>
<rect x="1462.40" y="454.16" width="17.60" height="94.04" fill="#c9d8ec"/>
<rect x="1463.20" y="454.96" width="16.00" height="93.24" fill="#4a75b1"/>
<rect x="1482.40" y="500.78" width="17.60" height="47.42" fill="#c9d8ec"/>
<rect x="1483.20" y="501.58" width="16.00" height="46.62" fill="#4a75b1"/>
<rect x="1502.40" y="531.86" width="17.60" height="16.34" fill="#c9d8ec"/>
<rect x="1503.20" y="532.66" width="16.00" height="15.54" fill="#4a75b1"/>
<rect x="1522.40" y="485.24" width="17.60" height="62.96" fill="#c9d8ec"/>
<rect x="1523.20" y="486.04" width="16.00" height="62.16" fill="#4a75b1"/>
<rect x="1542.40" y="531.86" width="17.60" height="16.34" fill="#c9d8ec"/>
<rect x="1543.20" y="532.66" width="16.00" height="15.54" fill="#4a75b1"/>
<line x1="1249.1" y1="338.1" x2="1574.3" y2="338.1" stroke="#8e8e8e" stroke-width="1.8"/>
<line x1="1574.3" y1="338.1" x2="1574.3" y2="548.2" stroke="#a4a4a4" stroke-width="1.6"/>
<line x1="1247.1" y1="548.2" x2="1575.1" y2="548.2" stroke="#6e6e6e" stroke-width="2.4" opacity="0.85"/>
<line x1="1271.2" y1="549.2" x2="1271.2" y2="552.2" stroke="#777" stroke-width="1"/>
<text x="1271.2" y="566.2" text-anchor="middle" font-family="'Liberation Sans',Arial,sans-serif" font-size="16" fill="#404040">0.0</text>
<line x1="1321.2" y1="549.2" x2="1321.2" y2="552.2" stroke="#777" stroke-width="1"/>
<text x="1321.2" y="566.2" text-anchor="middle" font-family="'Liberation Sans',Arial,sans-serif" font-size="16" fill="#404040">2.5</text>
<line x1="1371.2" y1="549.2" x2="1371.2" y2="552.2" stroke="#777" stroke-width="1"/>
<text x="1371.2" y="566.2" text-anchor="middle" font-family="'Liberation Sans',Arial,sans-serif" font-size="16" fill="#404040">5.0</text>
<line x1="1421.2" y1="549.2" x2="1421.2" y2="552.2" stroke="#777" stroke-width="1"/>
<text x="1421.2" y="566.2" text-anchor="middle" font-family="'Liberation Sans',Arial,sans-serif" font-size="16" fill="#404040">7.5</text>
<line x1="1471.2" y1="549.2" x2="1471.2" y2="552.2" stroke="#777" stroke-width="1"/>
<text x="1471.2" y="566.2" text-anchor="middle" font-family="'Liberation Sans',Arial,sans-serif" font-size="16" fill="#404040">10.0</text>
<line x1="1521.2" y1="549.2" x2="1521.2" y2="552.2" stroke="#777" stroke-width="1"/>
<text x="1521.2" y="566.2" text-anchor="middle" font-family="'Liberation Sans',Arial,sans-serif" font-size="16" fill="#404040">12.5</text>
<line x1="1571.2" y1="549.2" x2="1571.2" y2="552.2" stroke="#777" stroke-width="1"/>
<text x="1571.2" y="566.2" text-anchor="middle" font-family="'Liberation Sans',Arial,sans-serif" font-size="16" fill="#404040">15.0</text>
<line x1="1243.6" y1="548.2" x2="1246.6" y2="548.2" stroke="#999" stroke-width="1"/>
<text x="1242.1" y="554.0" text-anchor="end" font-family="'Liberation Sans',Arial,sans-serif" font-size="16" fill="#404040">0</text>
<line x1="1243.6" y1="517.1" x2="1246.6" y2="517.1" stroke="#999" stroke-width="1"/>
<text x="1242.1" y="522.9" text-anchor="end" font-family="'Liberation Sans',Arial,sans-serif" font-size="16" fill="#404040">2</text>
<line x1="1243.6" y1="486.0" x2="1246.6" y2="486.0" stroke="#999" stroke-width="1"/>
<text x="1242.1" y="491.8" text-anchor="end" font-family="'Liberation Sans',Arial,sans-serif" font-size="16" fill="#404040">4</text>
<line x1="1243.6" y1="455.0" x2="1246.6" y2="455.0" stroke="#999" stroke-width="1"/>
<text x="1242.1" y="460.7" text-anchor="end" font-family="'Liberation Sans',Arial,sans-serif" font-size="16" fill="#404040">6</text>
<line x1="1243.6" y1="423.9" x2="1246.6" y2="423.9" stroke="#999" stroke-width="1"/>
<text x="1242.1" y="429.6" text-anchor="end" font-family="'Liberation Sans',Arial,sans-serif" font-size="16" fill="#404040">8</text>
<line x1="1243.6" y1="392.8" x2="1246.6" y2="392.8" stroke="#999" stroke-width="1"/>
<text x="1242.1" y="398.6" text-anchor="end" font-family="'Liberation Sans',Arial,sans-serif" font-size="16" fill="#404040">10</text>
<line x1="1243.6" y1="361.7" x2="1246.6" y2="361.7" stroke="#999" stroke-width="1"/>
<text x="1242.1" y="367.5" text-anchor="end" font-family="'Liberation Sans',Arial,sans-serif" font-size="16" fill="#404040">12</text>
<g font-family="'Liberation Serif','Times New Roman',serif" font-size="35.5" fill="#000">
<text x="1028.5" y="113.6" text-anchor="middle">CD; training</text>
<text x="1028.7" y="157.3" text-anchor="middle">data</text>
<text x="1401.5" y="113.6">CD; test</text>
<text x="1401.5" y="157.3" xml:space="preserve"> data</text>
<text x="1048.4" y="375" text-anchor="middle">QA; training</text>
<text x="1048.7" y="418.7" text-anchor="middle">data</text>
<text x="1434.2" y="375">QA; test</text>
<text x="1434.2" y="418.7" xml:space="preserve"> data</text>
<text x="1096" y="619" text-anchor="middle">No. of incorrectly predicted bits</text>
<text transform="translate(761.3,348) rotate(-90)" text-anchor="middle">No. of instances</text>
</g>
<line x1="771.3" y1="539.7" x2="771.3" y2="198" stroke="#000" stroke-width="3.2"/>
<polygon points="771.2,182.2 761.8,200.8 780.8,200.8" fill="#000"/>
<line x1="839.3" y1="580.5" x2="1338" y2="582.2" stroke="#000" stroke-width="3.4"/>
<polygon points="1355.2,582.6 1335.9,573.4 1335.9,592.3" fill="#000"/>
</svg>
</body></html>
